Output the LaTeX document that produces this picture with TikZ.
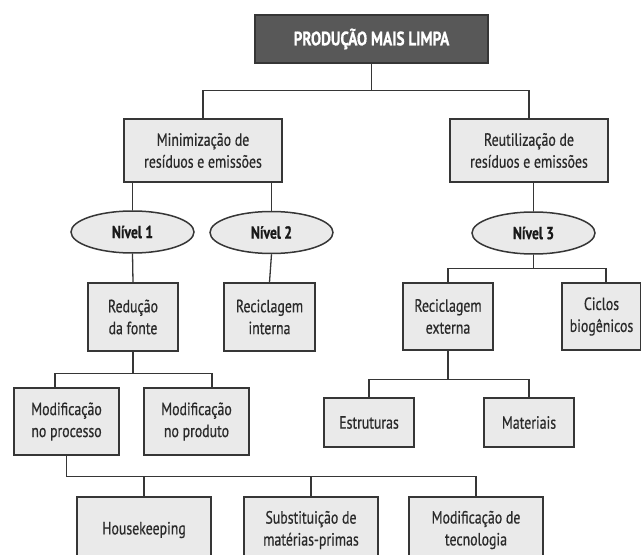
\documentclass[tikz,border=0pt]{standalone}
\usepackage{fontspec}
\setmainfont{PT Sans}[FakeStretch=0.78, UprightFeatures={FakeBold=0.6}, BoldFeatures={FakeBold=0.8}]
\usetikzlibrary{shapes.geometric,calc}
\definecolor{bordc}{HTML}{363636}
\definecolor{boxc}{HTML}{EAEAEA}
\definecolor{topc}{HTML}{585858}
\definecolor{txtc}{HTML}{2A2A2A}
\tikzset{
  sz/.style 2 args={minimum width=#1bp, minimum height=#2bp},
  box/.style={draw=bordc, fill=boxc, line width=1.5bp, align=center, inner sep=0pt, text=txtc, font=\fontsize{17.8}{22}\selectfont},
  topbox/.style={draw=bordc, fill=topc, line width=1.5bp, inner sep=0pt, text=white, font=\fontsize{19.5}{22}\selectfont\bfseries},
  lvl/.style={ellipse, draw=bordc, fill=boxc, line width=1.5bp, inner sep=0pt, text=black!90, font=\fontsize{17.5}{20}\selectfont\bfseries},
  conn/.style={draw=bordc, line width=1.3bp}
}
\begin{document}
\begin{tikzpicture}[x=1bp,y=-1bp]
\useasboundingbox (0,0) rectangle (641,555);
% nodes
\node[topbox, sz={233}{48}] (top) at (371.5,39) {PRODUÇÃO MAIS LIMPA};
\node[box, sz={158}{63}] (min) at (203,150.5) {Minimização de\\resíduos e emissões};
\node[box, sz={158}{63}] (reu) at (529,150.5) {Reutilização de\\resíduos e emissões};
\node[lvl, sz={123}{42}] (n1) at (132.5,232) {Nível 1};
\node[lvl, sz={123}{42}] (n2) at (271.5,232.5) {Nível 2};
\node[lvl, sz={123}{42}] (n3) at (533.5,233) {Nível 3};
\node[box, sz={90}{68}] (red) at (133,317) {Redução\\da fonte};
\node[box, sz={91}{68}] (rint) at (269.5,317) {Reciclagem\\interna};
\node[box, sz={90}{67}] (rext) at (448,316.5) {Reciclagem\\externa};
\node[box, sz={79}{67}] (cic) at (601.5,316.5) {Ciclos\\biogênicos};
\node[box, sz={90}{49}] (est) at (369,422.5) {Estruturas};
\node[box, sz={90}{49}] (mat) at (529,422.5) {Materiais};
\node[box, sz={105}{67}] (mpr) at (66.5,421.5) {Modificação\\no processo};
\node[box, sz={105}{67}] (mpd) at (196.5,421.5) {Modificação\\no produto};
\node[box, sz={134}{66}] (hk) at (144,530) {Housekeeping};
\node[box, sz={134}{66}] (sub) at (311,530) {Substituição de\\matérias-primas};
\node[box, sz={134}{66}] (tec) at (476,530) {Modificação de\\tecnologia};
% connectors
\draw[conn] (top.south) -- ++(0,27) coordinate (j1);
\draw[conn] (min.north) |- (j1) -| (reu.north);
\draw[conn] (n1.north) -- (n1.north |- min.south);
\draw[conn] (n2.north) -- (n2.north |- min.south);
\draw[conn] (n3.north) -- (n3.north |- reu.south);
\draw[conn] (n1.south) -- (red.north);
\draw[conn] (n2.south) -- (rint.north);
\coordinate (mprt) at ($(mpr.north)+(-11.5,0)$);
\coordinate (mpdt) at ($(mpd.north)+(15.5,0)$);
\draw[conn] (red.south) -- ++(0,22) coordinate (j2);
\draw[conn] (mprt) |- (j2) -| (mpdt);
\draw[conn] (mpr.south) -- ++(0,21) coordinate (j4) -| (tec.north);
\draw[conn] (hk.north) -- (hk.north |- j4);
\draw[conn] (sub.north) -- (sub.north |- j4);
\coordinate (cict) at ($(cic.north)+(4.5,0)$);
\draw[conn] (n3.south) -- ++(0,14) coordinate (j3);
\draw[conn] (rext.north) |- (j3) -| (cict);
\draw[conn] (rext.south) -- ++(0,29) coordinate (j5);
\draw[conn] (est.north) |- (j5) -| (mat.north);
\end{tikzpicture}
\end{document}
